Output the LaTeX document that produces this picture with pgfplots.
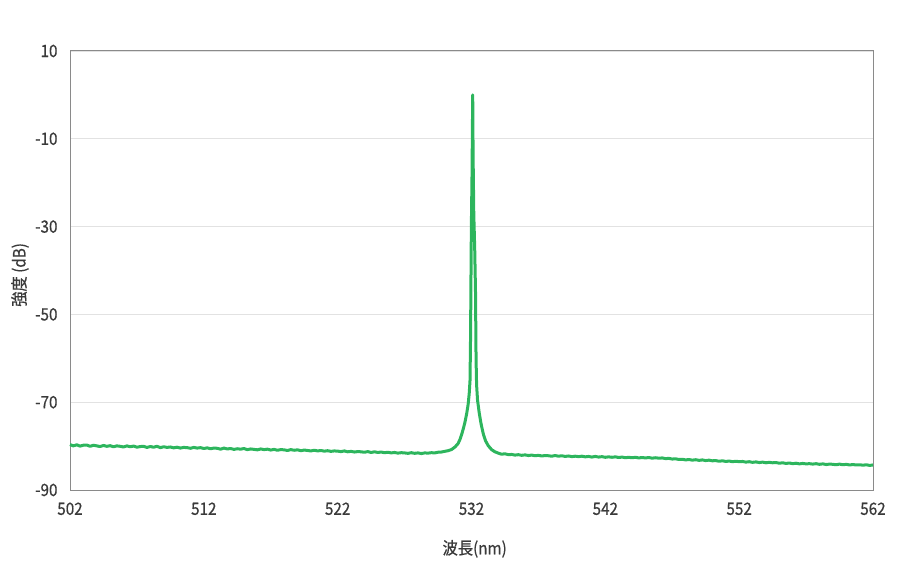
\documentclass[border=0pt]{standalone}
\usepackage{pgfplots}
\pgfplotsset{compat=1.18}
\usepackage{fontspec}
\setmainfont{Noto Sans CJK JP}[FakeStretch=0.9, FakeBold=0.6]
\definecolor{lgreen}{HTML}{2DB55D}
\definecolor{gridgray}{HTML}{E2E2E2}
\definecolor{framegray}{HTML}{8A8A8A}
\definecolor{textgray}{HTML}{3A3A3A}
\pgfplotstableread{
x y
502.00 -79.65
502.25 -79.95
502.50 -79.70
502.75 -80.00
503.00 -79.80
503.25 -79.75
503.50 -80.05
503.75 -79.80
504.00 -79.95
504.25 -80.10
504.50 -79.85
504.75 -80.05
505.00 -79.90
505.25 -80.15
505.50 -79.95
505.75 -80.05
506.00 -80.20
506.25 -79.95
506.50 -80.15
506.75 -80.00
507.00 -80.25
507.25 -80.10
507.50 -80.05
507.75 -80.30
508.00 -80.10
508.25 -80.25
508.50 -80.05
508.75 -80.35
509.00 -80.15
509.25 -80.30
509.50 -80.20
509.75 -80.40
510.00 -80.25
510.25 -80.45
510.50 -80.30
510.75 -80.35
511.00 -80.50
511.25 -80.30
511.50 -80.45
511.75 -80.35
512.00 -80.55
512.25 -80.40
512.50 -80.60
512.75 -80.45
513.00 -80.50
513.25 -80.70
513.50 -80.45
513.75 -80.65
514.00 -80.55
514.25 -80.75
514.50 -80.60
514.75 -80.70
515.00 -80.55
515.25 -80.80
515.50 -80.65
515.75 -80.75
516.00 -80.85
516.25 -80.65
516.50 -80.80
516.75 -80.70
517.00 -80.90
517.25 -80.75
517.50 -80.95
517.75 -80.80
518.00 -80.85
518.25 -81.00
518.50 -80.80
518.75 -80.95
519.00 -80.85
519.25 -81.05
519.50 -80.90
519.75 -81.00
520.00 -81.10
520.25 -80.95
520.50 -81.10
520.75 -81.00
521.00 -81.15
521.25 -81.05
521.50 -81.20
521.75 -81.10
522.00 -81.15
522.25 -81.25
522.50 -81.10
522.75 -81.30
523.00 -81.20
523.25 -81.35
523.50 -81.25
523.75 -81.30
524.00 -81.40
524.25 -81.25
524.50 -81.45
524.75 -81.30
525.00 -81.45
525.25 -81.35
525.50 -81.50
525.75 -81.40
526.00 -81.55
526.25 -81.45
526.50 -81.60
526.75 -81.50
527.00 -81.55
527.25 -81.65
527.50 -81.50
527.75 -81.65
528.00 -81.55
528.25 -81.70
528.50 -81.55
528.75 -81.60
529.00 -81.50
529.25 -81.55
529.50 -81.40
529.75 -81.35
530.00 -81.20
530.25 -81.05
530.50 -80.80
530.77 -80.20
531.00 -79.40
531.15 -78.40
531.27 -77.30
531.40 -75.90
531.50 -74.70
531.64 -72.60
531.75 -70.50
531.83 -68.00
531.89 -65.00
531.93 -55.00
531.96 -42.00
531.99 -30.00
532.04 -18.00
532.09 0.00
532.12 -14.00
532.17 -27.00
532.24 -35.00
532.30 -45.00
532.34 -60.00
532.38 -66.00
532.45 -69.50
532.58 -72.50
532.72 -75.00
532.88 -77.20
533.05 -78.80
533.25 -79.90
533.50 -80.80
533.75 -81.30
534.00 -81.60
534.25 -81.85
534.50 -81.75
534.75 -81.95
535.00 -81.90
535.25 -82.05
535.50 -81.95
535.75 -82.10
536.00 -82.00
536.25 -82.15
536.50 -82.05
536.75 -82.20
537.00 -82.10
537.25 -82.25
537.50 -82.15
537.75 -82.20
538.00 -82.30
538.25 -82.15
538.50 -82.30
538.75 -82.20
539.00 -82.35
539.25 -82.25
539.50 -82.40
539.75 -82.30
540.00 -82.40
540.25 -82.30
540.50 -82.45
540.75 -82.35
541.00 -82.50
541.25 -82.35
541.50 -82.50
541.75 -82.40
542.00 -82.55
542.25 -82.45
542.50 -82.55
542.75 -82.45
543.00 -82.60
543.25 -82.50
543.50 -82.65
543.75 -82.55
544.00 -82.65
544.25 -82.55
544.50 -82.70
544.75 -82.60
545.00 -82.70
545.25 -82.60
545.50 -82.75
545.75 -82.65
546.00 -82.75
546.25 -82.70
546.50 -82.85
546.75 -82.80
547.00 -82.95
547.25 -82.90
547.50 -83.05
547.75 -83.00
548.00 -83.15
548.25 -83.05
548.50 -83.20
548.75 -83.10
549.00 -83.25
549.25 -83.15
549.50 -83.30
549.75 -83.20
550.00 -83.35
550.25 -83.30
550.50 -83.45
550.75 -83.35
551.00 -83.50
551.25 -83.40
551.50 -83.55
551.75 -83.45
552.00 -83.55
552.25 -83.50
552.50 -83.65
552.75 -83.55
553.00 -83.70
553.25 -83.60
553.50 -83.75
553.75 -83.65
554.00 -83.80
554.25 -83.70
554.50 -83.80
554.75 -83.75
555.00 -83.90
555.25 -83.80
555.50 -83.95
555.75 -83.85
556.00 -84.00
556.25 -83.90
556.50 -84.05
556.75 -83.95
557.00 -84.05
557.25 -84.00
557.50 -84.10
557.75 -84.00
558.00 -84.15
558.25 -84.05
558.50 -84.20
558.75 -84.10
559.00 -84.15
559.25 -84.25
559.50 -84.10
559.75 -84.25
560.00 -84.15
560.25 -84.30
560.50 -84.20
560.75 -84.30
561.00 -84.25
561.25 -84.35
561.50 -84.25
561.75 -84.40
562.00 -84.30
}\spectrum
\begin{document}
\begin{tikzpicture}
\path[use as bounding box] (0,0) rectangle (911bp,580bp);
\begin{axis}[
  at={(70bp,90bp)}, anchor=south west,
  scale only axis, width=803bp, height=439bp,
  xmin=502, xmax=562, ymin=-90, ymax=10,
  xtick={502,512,...,562}, ytick={-90,-70,...,10},
  ymajorgrids, grid style={draw=gridgray, line width=0.9bp},
  axis line style={draw=framegray, line width=1bp},
  major tick length=0pt,
  /pgf/number format/assume math mode=true,
  tick label style={font=\fontsize{17}{17}\selectfont, text=textgray},
  xticklabel style={yshift=-9bp},
  yticklabel style={xshift=-9bp},
  xlabel={波長(nm)}, ylabel={強度 (dB)},
  label style={font=\fontsize{17}{17}\selectfont, text=textgray},
  xlabel style={at={(axis description cs:0.504,-0.134)}, anchor=center},
  ylabel style={at={(axis description cs:-0.0623,0.49)}, anchor=center},
  clip=false,
]
\addplot[lgreen, line width=3bp, line join=round, no markers] table[x=x,y=y] {\spectrum};
\end{axis}
\end{tikzpicture}
\end{document}
